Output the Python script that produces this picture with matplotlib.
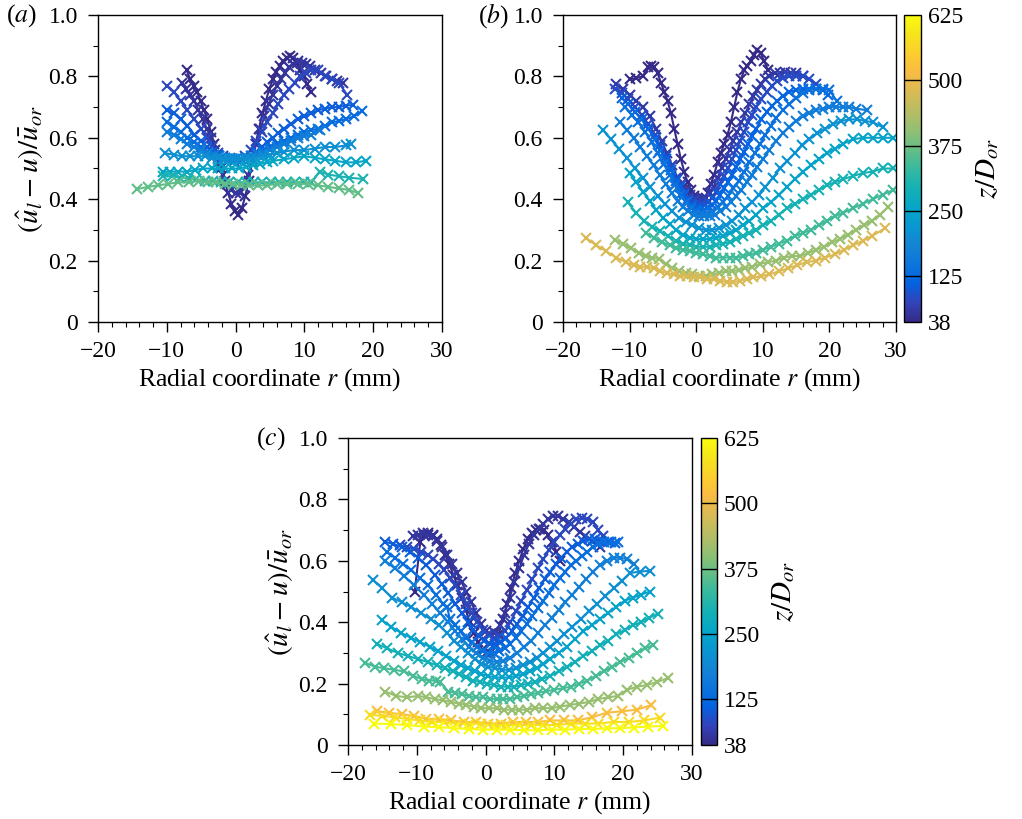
import matplotlib
matplotlib.use('Agg')
import matplotlib.pyplot as plt
from matplotlib.colors import LinearSegmentedColormap, Normalize
from matplotlib.cm import ScalarMappable
from matplotlib.ticker import MultipleLocator, FuncFormatter

plt.rcParams['font.family'] = 'serif'
plt.rcParams['font.serif'] = ['Liberation Serif', 'DejaVu Serif']
plt.rcParams['mathtext.fontset'] = 'stix'

# ---------------- data ----------------
Z_MIN, Z_MAX = 38, 625
CBAR_TICKS = [38, 125, 250, 375, 500, 625]

# panel (a)
z_a = [38, 55, 80, 105, 130, 165, 205, 255, 300, 365]
r_a = [
    [-7.1, -6.6, -6.1, -5.6, -5.1, -4.6, -4.1, -3.6, -3.1, -2.6, -2.1, -1.6, -1.1, -0.6, -0.1, 0.4, 0.9, 1.4, 1.9,
     2.4, 2.9, 3.4, 3.9, 4.4, 4.9, 5.4, 5.9, 6.4, 6.9, 7.4, 7.9, 8.4, 8.9, 9.4, 9.9, 10.4, 10.9],
    [-7.8, -7.2, -6.6, -6.0, -5.4, -4.8, -4.2, -3.6, -3.0, -2.4, -1.8, -1.2, -0.6, 0.0, 0.6, 1.2, 1.8, 2.4, 3.0,
     3.6, 4.2, 4.8, 5.4, 6.0, 6.6, 7.2, 7.8, 8.4, 9.0, 9.6, 10.2, 10.8, 11.6, 12.4, 13.2, 14.0, 14.8, 15.6],
    [-10, -9, -8, -7, -6, -5, -4.2, -3.4, -2.6, -1.8, -1.0, -0.2, 0.6, 1.4, 2.2, 3.0, 3.8, 4.6, 5.4, 6.2, 7.0,
     7.8, 8.6, 9.4, 10.2, 11.0, 12.0, 13.0, 14.0, 15.0, 16.2],
    [-10, -9, -8, -7, -6, -5, -4.2, -3.4, -2.6, -1.8, -1.0, -0.2, 0.6, 1.4, 2.2, 3.0, 3.8, 4.6, 5.4, 6.2, 7.0,
     8.0, 9.0, 10.0, 11.0, 12.0, 13.0, 14.0, 15.0, 16.0, 17.1],
    [-10, -9, -8, -7, -6, -5, -4, -3.2, -2.4, -1.6, -0.8, 0, 0.8, 1.6, 2.4, 3.2, 4.0, 5.0, 6.0, 7.0, 8.0, 9.0,
     10.0, 11.0, 12.0, 13.0, 14.0, 15.0, 16.0, 17.2, 18.4],
    [-10, -9, -8, -7, -6, -5, -4, -3.2, -2.4, -1.6, -0.8, 0, 0.8, 1.6, 2.4, 3.2, 4.0, 5.0, 6.0, 7.0, 8.0, 9.0,
     10.0, 11.0, 12.2],
    [-10.3, -9, -7.8, -6.6, -5.4, -4.4, -3.4, -2.6, -1.8, -1.0, -0.2, 0.6, 1.4, 2.2, 3.0, 4.0, 5.0, 6.0, 7.0, 8.5,
     10, 11.5, 13, 14.5, 16, 16.8],
    [-10.5, -9.5, -8.3, -7.1, -5.9, -4.7, -3.5, -2.5, -1.5, -0.5, 0.5, 1.5, 2.5, 3.5, 4.5, 5.5, 7, 8.5, 10, 11.5,
     13, 14.5, 16, 17.5, 18.9],
    [-10.5, -9.3, -8.1, -6.9, -5.7, -4.5, -3.3, -2.1, -0.9, 0.3, 1.5, 2.7, 3.9, 5.1, 6.3, 7.5, 8.7, 9.9, 11.0,
     12.2, 13.5, 15, 16.5, 18.5],
    [-14.3, -12.8, -11.3, -9.8, -8.3, -6.8, -5.3, -4, -2.8, -1.6, -0.4, 0.8, 2, 3.2, 4.5, 6, 7.5, 9, 10.5, 12,
     13.5, 15, 16.5, 17.8],
]
u_a = [
    [0.82, 0.79, 0.77, 0.75, 0.72, 0.69, 0.66, 0.62, 0.58, 0.54, 0.50, 0.46, 0.42, 0.385, 0.36, 0.35, 0.37, 0.41,
     0.46, 0.52, 0.58, 0.63, 0.68, 0.72, 0.76, 0.79, 0.815, 0.835, 0.85, 0.86, 0.865, 0.86, 0.845, 0.82, 0.80,
     0.775, 0.75],
    [0.78, 0.76, 0.74, 0.72, 0.69, 0.66, 0.63, 0.60, 0.56, 0.52, 0.48, 0.45, 0.43, 0.42, 0.42, 0.44, 0.48, 0.53,
     0.58, 0.63, 0.67, 0.71, 0.74, 0.77, 0.79, 0.81, 0.83, 0.84, 0.85, 0.845, 0.84, 0.835, 0.82, 0.81, 0.80, 0.79,
     0.785, 0.78],
    [0.77, 0.75, 0.72, 0.69, 0.66, 0.63, 0.60, 0.57, 0.55, 0.54, 0.53, 0.525, 0.53, 0.54, 0.56, 0.59, 0.62, 0.65,
     0.68, 0.71, 0.74, 0.76, 0.78, 0.80, 0.81, 0.82, 0.82, 0.80, 0.79, 0.78, 0.74],
    [0.69, 0.68, 0.66, 0.64, 0.61, 0.59, 0.57, 0.555, 0.545, 0.535, 0.53, 0.525, 0.525, 0.53, 0.54, 0.555, 0.57,
     0.585, 0.60, 0.615, 0.63, 0.645, 0.66, 0.67, 0.68, 0.69, 0.695, 0.70, 0.70, 0.705, 0.707],
    [0.65, 0.635, 0.62, 0.60, 0.585, 0.57, 0.555, 0.545, 0.54, 0.535, 0.53, 0.53, 0.53, 0.535, 0.54, 0.55, 0.56,
     0.57, 0.58, 0.59, 0.60, 0.61, 0.62, 0.625, 0.63, 0.64, 0.65, 0.655, 0.66, 0.67, 0.687],
    [0.62, 0.61, 0.595, 0.58, 0.57, 0.56, 0.55, 0.545, 0.54, 0.535, 0.535, 0.53, 0.53, 0.535, 0.54, 0.545, 0.55,
     0.56, 0.57, 0.58, 0.59, 0.60, 0.605, 0.61, 0.625],
    [0.55, 0.545, 0.54, 0.54, 0.54, 0.54, 0.535, 0.535, 0.53, 0.53, 0.53, 0.53, 0.53, 0.53, 0.535, 0.54, 0.545,
     0.55, 0.555, 0.56, 0.56, 0.565, 0.57, 0.57, 0.575, 0.58],
    [0.49, 0.49, 0.49, 0.49, 0.495, 0.50, 0.50, 0.50, 0.50, 0.50, 0.50, 0.505, 0.51, 0.515, 0.52, 0.525, 0.53,
     0.535, 0.54, 0.535, 0.53, 0.525, 0.52, 0.52, 0.525],
    [0.475, 0.475, 0.47, 0.47, 0.465, 0.46, 0.46, 0.455, 0.455, 0.455, 0.455, 0.455, 0.455, 0.455, 0.455, 0.455,
     0.455, 0.455, 0.455, 0.49, 0.48, 0.475, 0.47, 0.466],
    [0.433, 0.44, 0.445, 0.45, 0.455, 0.455, 0.46, 0.455, 0.455, 0.45, 0.45, 0.445, 0.445, 0.445, 0.445, 0.45,
     0.45, 0.45, 0.45, 0.445, 0.44, 0.435, 0.43, 0.42],
]

# panel (b)
z_b = [38, 60, 85, 115, 140, 165, 210, 250, 295, 340, 410, 480]
r_b = [
    [-10, -9, -8, -7.3, -6.8, -6.3, -5.8, -5.3, -4.8, -4.3, -3.8, -3.3, -2.8, -2.3, -1.8, -1.3, -0.8, -0.3, 0.2,
     0.7, 1.2, 1.7, 2.2, 2.7, 3.2, 3.7, 4.2, 4.7, 5.2, 5.7, 6.2, 6.7, 7.2, 7.7, 8.2, 8.7, 9.2, 9.7, 10.2, 10.8],
    [-12, -11, -10, -9, -8, -7, -6, -5.2, -4.4, -3.6, -2.8, -2.2, -1.6, -1.0, -0.4, 0.2, 0.8, 1.4, 2.0, 2.6, 3.2,
     3.8, 4.4, 5.0, 5.6, 6.2, 6.8, 7.4, 8.0, 8.6, 9.2, 9.8, 10.4, 11.0, 11.8, 12.6, 13.4, 14.2, 15.0, 16.0],
    [-12.2, -11.2, -10.2, -9.2, -8.2, -7.2, -6.2, -5.4, -4.6, -3.8, -3.0, -2.4, -1.8, -1.2, -0.6, 0.0, 0.6, 1.2,
     1.8, 2.4, 3.0, 3.6, 4.2, 4.8, 5.4, 6.0, 6.6, 7.2, 7.8, 8.4, 9.0, 9.8, 10.6, 11.4, 12.2, 13.0, 14.0, 15.0,
     16.0, 17.0, 18.0],
    [-11.2, -10.2, -9.2, -8.2, -7.2, -6.2, -5.4, -4.6, -3.8, -3.0, -2.4, -1.8, -1.2, -0.6, 0.0, 0.6, 1.2, 1.8,
     2.4, 3.0, 3.6, 4.2, 4.8, 5.4, 6.0, 6.6, 7.2, 7.8, 8.4, 9.0, 9.8, 10.6, 11.4, 12.2, 13.0, 14.0, 15.0, 16.0,
     17.0, 18.0, 19.0, 19.8],
    [-10.7, -9.7, -8.7, -7.7, -6.7, -5.8, -4.9, -4.0, -3.2, -2.4, -1.6, -0.8, 0.0, 0.8, 1.6, 2.4, 3.2, 4.0, 4.8,
     5.6, 6.4, 7.2, 8.0, 8.8, 9.6, 10.4, 11.2, 12.0, 13.0, 14.0, 15.0, 16.0, 17.0, 18.0, 19.0, 20.0, 21.1],
    [-11.4, -10.4, -9.4, -8.4, -7.4, -6.4, -5.5, -4.6, -3.7, -2.8, -2.0, -1.2, -0.4, 0.4, 1.2, 2.0, 2.8, 3.6,
     4.4, 5.2, 6.0, 6.8, 7.6, 8.4, 9.2, 10.0, 11.0, 12.0, 13.0, 14.0, 15.0, 16.0, 17.0, 18.0, 19.0, 20.0, 21.0,
     22.0, 23.0, 24.0, 25.6],
    [-14, -12.8, -11.6, -10.4, -9.2, -8, -6.9, -5.8, -4.7, -3.6, -2.6, -1.6, -0.6, 0.4, 1.4, 2.4, 3.4, 4.4, 5.4,
     6.4, 7.4, 8.4, 9.4, 10.4, 11.5, 12.6, 13.7, 14.8, 15.9, 17, 18.2, 19.4, 20.6, 21.8, 23, 24.2, 25.4, 26.6, 28],
    [-10, -9, -8, -7, -6, -5, -4, -3, -2, -1, 0, 1, 2, 3, 4, 5, 6, 7, 8, 9, 10, 11.2, 12.4, 13.6, 14.8, 16, 17.2,
     18.4, 19.6, 20.8, 22, 23.5, 25, 26.5, 28, 29.6],
    [-10.3, -9, -7.8, -6.6, -5.4, -4.2, -3, -2, -1, 0, 1, 2, 3, 4, 5, 6, 7, 8, 9, 10, 11.2, 12.4, 13.6, 14.8, 16,
     17.2, 18.4, 19.6, 20.8, 22, 23.5, 25, 26.5, 28, 29.6],
    [-7.5, -6.3, -5.1, -4, -3, -2, -1, 0, 1, 2, 3, 4, 5, 6, 7, 8, 9, 10, 11.2, 12.4, 13.6, 14.8, 16, 17.2, 18.4,
     19.6, 20.8, 22, 23.5, 25, 26.5, 28, 29.6],
    [-12.2, -11, -9.8, -8.6, -7.6, -6.6, -5.6, -4.6, -3.6, -2.6, -1.6, -0.6, 0.4, 1.4, 2.4, 3.4, 4.4, 5.4, 6.4,
     7.4, 8.4, 9.6, 10.8, 12, 13.2, 14.4, 15.6, 16.8, 18, 19.2, 20.4, 21.6, 22.8, 24, 25.2, 26.4, 27.6, 28.8],
    [-16.5, -15, -13.5, -12, -10.6, -9.4, -8.4, -7.4, -6.4, -5.4, -4.4, -3.4, -2.4, -1.4, -0.4, 0.6, 1.6, 2.6,
     3.6, 4.6, 5.6, 6.6, 7.6, 8.6, 9.8, 11, 12.4, 13.8, 15.2, 16.6, 18, 19.4, 20.8, 22.2, 23.6, 25, 26.4, 28.3],
]
u_b = [
    [0.79, 0.795, 0.80, 0.83, 0.835, 0.83, 0.81, 0.78, 0.75, 0.72, 0.68, 0.63, 0.58, 0.53, 0.49, 0.455, 0.43,
     0.41, 0.40, 0.395, 0.40, 0.42, 0.45, 0.48, 0.52, 0.55, 0.58, 0.61, 0.65, 0.70, 0.75, 0.79, 0.82, 0.835, 0.85,
     0.87, 0.885, 0.875, 0.85, 0.82],
    [0.775, 0.76, 0.74, 0.72, 0.70, 0.67, 0.63, 0.59, 0.55, 0.51, 0.47, 0.45, 0.43, 0.415, 0.405, 0.40, 0.40,
     0.405, 0.42, 0.44, 0.47, 0.50, 0.53, 0.56, 0.59, 0.62, 0.65, 0.68, 0.71, 0.735, 0.755, 0.775, 0.79, 0.80,
     0.81, 0.81, 0.815, 0.81, 0.81, 0.80],
    [0.76, 0.745, 0.725, 0.70, 0.675, 0.645, 0.61, 0.575, 0.54, 0.505, 0.47, 0.445, 0.42, 0.40, 0.39, 0.385, 0.38,
     0.38, 0.39, 0.405, 0.425, 0.45, 0.475, 0.50, 0.53, 0.56, 0.59, 0.62, 0.65, 0.675, 0.70, 0.725, 0.75, 0.77,
     0.785, 0.795, 0.80, 0.80, 0.80, 0.79, 0.775],
    [0.73, 0.71, 0.685, 0.66, 0.63, 0.595, 0.56, 0.53, 0.495, 0.46, 0.44, 0.415, 0.395, 0.38, 0.37, 0.365, 0.365,
     0.37, 0.38, 0.395, 0.415, 0.435, 0.455, 0.48, 0.505, 0.53, 0.555, 0.58, 0.605, 0.63, 0.66, 0.685, 0.705,
     0.72, 0.735, 0.75, 0.755, 0.76, 0.76, 0.76, 0.755, 0.74],
    [0.70, 0.675, 0.65, 0.62, 0.585, 0.55, 0.515, 0.48, 0.445, 0.415, 0.39, 0.37, 0.36, 0.355, 0.355, 0.36,
     0.375, 0.39, 0.41, 0.435, 0.46, 0.49, 0.52, 0.55, 0.58, 0.61, 0.64, 0.665, 0.69, 0.71, 0.73, 0.745, 0.755,
     0.76, 0.76, 0.755, 0.72],
    [0.65, 0.625, 0.60, 0.57, 0.54, 0.51, 0.48, 0.45, 0.42, 0.395, 0.375, 0.36, 0.35, 0.345, 0.345, 0.345, 0.35,
     0.36, 0.375, 0.39, 0.41, 0.43, 0.455, 0.48, 0.505, 0.53, 0.56, 0.59, 0.615, 0.635, 0.655, 0.67, 0.68, 0.69,
     0.695, 0.70, 0.70, 0.70, 0.70, 0.695, 0.69],
    [0.625, 0.595, 0.565, 0.535, 0.50, 0.47, 0.44, 0.41, 0.385, 0.36, 0.34, 0.325, 0.315, 0.305, 0.30, 0.30,
     0.305, 0.315, 0.33, 0.35, 0.37, 0.39, 0.415, 0.44, 0.47, 0.50, 0.525, 0.55, 0.575, 0.595, 0.615, 0.63, 0.645,
     0.655, 0.66, 0.66, 0.655, 0.65, 0.635],
    [0.485, 0.455, 0.425, 0.395, 0.365, 0.34, 0.32, 0.30, 0.285, 0.275, 0.27, 0.27, 0.27, 0.275, 0.28, 0.29, 0.30,
     0.315, 0.33, 0.35, 0.37, 0.39, 0.415, 0.44, 0.465, 0.49, 0.51, 0.53, 0.55, 0.565, 0.58, 0.595, 0.60, 0.60,
     0.60, 0.60],
    [0.39, 0.355, 0.33, 0.31, 0.295, 0.28, 0.265, 0.255, 0.25, 0.245, 0.245, 0.245, 0.25, 0.255, 0.26, 0.27, 0.28,
     0.29, 0.30, 0.315, 0.33, 0.35, 0.37, 0.385, 0.40, 0.415, 0.43, 0.445, 0.455, 0.465, 0.475, 0.485, 0.49, 0.50,
     0.50],
    [0.29, 0.275, 0.26, 0.25, 0.24, 0.235, 0.23, 0.225, 0.22, 0.215, 0.21, 0.21, 0.21, 0.21, 0.215, 0.22, 0.225,
     0.235, 0.245, 0.255, 0.265, 0.28, 0.29, 0.30, 0.315, 0.33, 0.345, 0.355, 0.37, 0.385, 0.40, 0.415, 0.43],
    [0.267, 0.255, 0.24, 0.225, 0.215, 0.21, 0.205, 0.19, 0.175, 0.165, 0.16, 0.155, 0.15, 0.15, 0.155, 0.16,
     0.165, 0.165, 0.17, 0.175, 0.18, 0.19, 0.195, 0.20, 0.21, 0.215, 0.215, 0.225, 0.235, 0.245, 0.26, 0.27,
     0.285, 0.30, 0.315, 0.33, 0.35, 0.374],
    [0.273, 0.25, 0.23, 0.21, 0.195, 0.185, 0.18, 0.18, 0.175, 0.165, 0.16, 0.155, 0.15, 0.15, 0.145, 0.145, 0.14,
     0.14, 0.135, 0.13, 0.13, 0.135, 0.14, 0.145, 0.15, 0.155, 0.165, 0.175, 0.185, 0.195, 0.20, 0.21, 0.22,
     0.235, 0.25, 0.265, 0.28, 0.305],
]

# panel (c)
z_c = [38, 55, 80, 105, 135, 170, 205, 245, 290, 345, 410, 520, 575, 625]
r_c = [
    [-10.3, -9.5, -8.9, -8.3, -7.7, -7.1, -6.5, -5.9, -5.3, -4.7, -4.1, -3.5, -2.9, -2.3, -1.7, -1.1, -0.5, 0.1,
     0.7, 1.3, 1.9, 2.5, 3.1, 3.7, 4.3, 4.9, 5.5, 6.1, 6.7, 7.3, 7.9, 8.5, 9.1, 9.7, 10.3, 10.8],
    [-10.5, -9.8, -9.1, -8.4, -7.7, -7, -6.3, -5.6, -4.9, -4.2, -3.5, -2.8, -2.1, -1.4, -0.7, 0, 0.7, 1.4, 2.1,
     2.8, 3.5, 4.2, 4.9, 5.6, 6.3, 7, 7.7, 8.4, 9.1, 9.8, 10.5, 11.3, 12.1, 12.9, 13.7, 14.5, 15.5, 16.6],
    [-12.4, -11.4, -10.4, -9.4, -8.4, -7.6, -6.8, -6, -5.2, -4.4, -3.6, -2.8, -2, -1.2, -0.4, 0.4, 1.2, 2, 2.8,
     3.6, 4.4, 5.2, 6, 6.8, 7.6, 8.4, 9.2, 10, 10.8, 11.6, 12.4, 13.2, 14, 14.8, 15.6, 16.4, 17.1],
    [-14.6, -13.4, -12.2, -11, -9.8, -8.6, -7.4, -6.4, -5.4, -4.4, -3.5, -2.6, -1.8, -1, -0.2, 0.6, 1.4, 2.2, 3,
     3.8, 4.6, 5.4, 6.2, 7, 7.8, 8.6, 9.4, 10.2, 11, 11.8, 12.6, 13.4, 14.2, 15, 15.9, 16.8, 17.8, 18.8],
    [-14.4, -13.2, -12, -10.8, -9.6, -8.4, -7.2, -6.2, -5.6, -5.2, -4.4, -3.6, -2.8, -2, -1.2, -0.4, 0.4, 1.2, 2,
     2.8, 3.6, 4.4, 5.2, 6, 6.8, 7.6, 8.4, 9.2, 10, 10.8, 11.6, 12.4, 13.2, 14, 14.8, 15.6, 16.4, 17.2, 18.2, 19.3],
    [-14.6, -13.2, -11.8, -10.4, -9, -7.8, -6.6, -5.4, -4.4, -3.4, -2.4, -1.4, -0.4, 0.6, 1.6, 2.6, 3.6, 4.6, 5.6,
     6.6, 7.6, 8.6, 9.6, 10.6, 11.6, 12.6, 13.6, 14.6, 15.6, 16.6, 17.6, 18.6, 19.6, 20.6, 21.5],
    [-16.3, -15, -13.6, -12.2, -10.8, -9.4, -8, -6.8, -5.6, -4.6, -3.6, -2.6, -1.6, -0.6, 0.4, 1.4, 2.4, 3.4, 4.4,
     5.4, 6.4, 7.4, 8.4, 9.4, 10.4, 11.4, 12.6, 13.8, 15, 16.2, 17.4, 18.6, 19.8, 21, 22.4, 23.9],
    [-15.1, -13.7, -12.3, -10.9, -9.5, -8.1, -6.9, -5.7, -4.6, -3.6, -2.6, -1.6, -0.6, 0.4, 1.4, 2.4, 3.4, 4.4,
     5.4, 6.4, 7.4, 8.4, 9.4, 10.6, 11.8, 13, 14.2, 15.4, 16.6, 17.8, 19, 20.2, 21.4, 22.6, 23.9],
    [-15.8, -14.3, -12.8, -11.3, -9.8, -8.4, -7.1, -5.9, -4.8, -3.8, -2.8, -1.8, -0.8, 0.2, 1.2, 2.2, 3.2, 4.2,
     5.2, 6.2, 7.2, 8.2, 9.4, 10.6, 11.8, 13, 14.2, 15.4, 16.6, 17.8, 19, 20.2, 21.4, 22.6, 23.8, 25],
    [-17.5, -16.1, -14.7, -13.3, -11.9, -10.5, -9.3, -8.2, -7.2, -6.6, -5.4, -4.4, -3.4, -2.4, -1.4, -0.4, 0.6,
     1.6, 2.6, 3.6, 4.6, 5.6, 6.6, 7.6, 8.8, 10, 11.2, 12.4, 13.6, 14.8, 16, 17.2, 18.4, 19.6, 20.8, 22, 23.2, 24.4],
    [-14.6, -13, -11.4, -9.8, -8.6, -7.4, -6.2, -5, -3.9, -2.8, -1.7, -0.6, 0.5, 1.6, 2.7, 3.8, 4.9, 6, 7.2, 8.4,
     9.6, 10.8, 12.2, 13.6, 15, 16.4, 17.8, 19.2, 20.6, 22, 23.4, 24.9, 26.5],
    [-15.8, -14, -12.2, -10.4, -8.6, -6.8, -5, -3.2, -1.4, 0.4, 2.2, 4, 5.8, 7.6, 9.4, 11.4, 13.4, 15.4, 17.6,
     19.8, 22, 24.1],
    [-16.8, -15, -13.2, -11.4, -9.6, -7.8, -6, -4.2, -2.4, -0.6, 1.2, 3, 4.8, 6.6, 8.4, 10.4, 12.4, 14.4, 16.4,
     18.6, 20.8, 23, 25.3],
    [-16.2, -13.8, -11.4, -9, -6.8, -4.6, -2.4, -0.4, 1.6, 3.6, 5.6, 7.6, 9.6, 11.6, 13.6, 15.6, 17.6, 19.6, 21.6,
     23.6, 25.8],
]
u_c = [
    [0.50, 0.66, 0.685, 0.69, 0.685, 0.67, 0.65, 0.62, 0.59, 0.555, 0.52, 0.48, 0.44, 0.40, 0.365, 0.335, 0.31,
     0.30, 0.30, 0.32, 0.36, 0.41, 0.46, 0.51, 0.56, 0.60, 0.64, 0.67, 0.69, 0.70, 0.705, 0.70, 0.685, 0.66, 0.63,
     0.60],
    [0.68, 0.685, 0.69, 0.685, 0.68, 0.665, 0.645, 0.62, 0.59, 0.56, 0.53, 0.50, 0.465, 0.43, 0.395, 0.37, 0.36,
     0.365, 0.39, 0.43, 0.48, 0.53, 0.575, 0.62, 0.655, 0.685, 0.705, 0.72, 0.735, 0.745, 0.745, 0.735, 0.725,
     0.71, 0.695, 0.68, 0.665, 0.646],
    [0.65, 0.645, 0.64, 0.63, 0.62, 0.605, 0.59, 0.57, 0.545, 0.52, 0.49, 0.46, 0.43, 0.40, 0.375, 0.36, 0.35,
     0.355, 0.37, 0.40, 0.435, 0.47, 0.505, 0.54, 0.575, 0.605, 0.635, 0.66, 0.685, 0.705, 0.72, 0.735, 0.74,
     0.735, 0.727, 0.70, 0.68],
    [0.662, 0.655, 0.645, 0.63, 0.61, 0.585, 0.555, 0.525, 0.495, 0.46, 0.43, 0.40, 0.375, 0.355, 0.34, 0.33,
     0.33, 0.335, 0.35, 0.37, 0.395, 0.42, 0.45, 0.48, 0.51, 0.54, 0.565, 0.59, 0.61, 0.63, 0.645, 0.655, 0.665,
     0.67, 0.67, 0.665, 0.66, 0.657],
    [0.63, 0.61, 0.59, 0.57, 0.545, 0.52, 0.49, 0.46, 0.45, 0.41, 0.39, 0.37, 0.35, 0.335, 0.32, 0.305, 0.30,
     0.30, 0.305, 0.315, 0.33, 0.35, 0.37, 0.395, 0.42, 0.445, 0.47, 0.495, 0.52, 0.545, 0.565, 0.585, 0.60,
     0.615, 0.63, 0.645, 0.655, 0.66, 0.66, 0.66],
    [0.60, 0.575, 0.55, 0.52, 0.49, 0.46, 0.43, 0.40, 0.37, 0.345, 0.32, 0.30, 0.285, 0.275, 0.27, 0.275, 0.285,
     0.30, 0.32, 0.34, 0.365, 0.39, 0.415, 0.44, 0.465, 0.49, 0.515, 0.54, 0.565, 0.585, 0.60, 0.61, 0.61, 0.605,
     0.59],
    [0.537, 0.51, 0.48, 0.465, 0.45, 0.43, 0.41, 0.39, 0.365, 0.34, 0.32, 0.30, 0.28, 0.265, 0.255, 0.25, 0.245,
     0.245, 0.25, 0.26, 0.27, 0.285, 0.30, 0.32, 0.34, 0.36, 0.385, 0.41, 0.435, 0.46, 0.485, 0.51, 0.535, 0.56,
     0.565, 0.567],
    [0.407, 0.385, 0.365, 0.35, 0.335, 0.32, 0.305, 0.29, 0.275, 0.26, 0.25, 0.24, 0.23, 0.225, 0.22, 0.22, 0.22,
     0.225, 0.23, 0.24, 0.25, 0.265, 0.28, 0.30, 0.32, 0.345, 0.37, 0.39, 0.41, 0.43, 0.45, 0.47, 0.48, 0.49,
     0.50],
    [0.329, 0.315, 0.30, 0.29, 0.28, 0.27, 0.26, 0.25, 0.24, 0.23, 0.22, 0.21, 0.205, 0.20, 0.195, 0.19, 0.19,
     0.19, 0.195, 0.20, 0.205, 0.215, 0.225, 0.24, 0.255, 0.27, 0.29, 0.305, 0.325, 0.34, 0.36, 0.375, 0.39,
     0.40, 0.415, 0.427],
    [0.268, 0.255, 0.25, 0.245, 0.24, 0.225, 0.215, 0.21, 0.21, 0.205, 0.174, 0.17, 0.165, 0.16, 0.155, 0.155,
     0.15, 0.15, 0.15, 0.15, 0.155, 0.16, 0.165, 0.17, 0.175, 0.18, 0.185, 0.19, 0.20, 0.21, 0.225, 0.24, 0.255,
     0.27, 0.285, 0.30, 0.315, 0.326],
    [0.174, 0.16, 0.155, 0.16, 0.155, 0.15, 0.145, 0.14, 0.135, 0.13, 0.125, 0.12, 0.12, 0.12, 0.115, 0.115,
     0.115, 0.115, 0.12, 0.12, 0.12, 0.125, 0.13, 0.135, 0.14, 0.15, 0.155, 0.16, 0.18, 0.19, 0.195, 0.205, 0.218],
    [0.11, 0.105, 0.10, 0.095, 0.085, 0.085, 0.08, 0.075, 0.075, 0.07, 0.07, 0.075, 0.075, 0.075, 0.08, 0.08,
     0.08, 0.09, 0.105, 0.11, 0.115, 0.13],
    [0.098, 0.095, 0.09, 0.085, 0.08, 0.075, 0.075, 0.07, 0.07, 0.07, 0.065, 0.065, 0.065, 0.065, 0.065, 0.065,
     0.07, 0.07, 0.07, 0.075, 0.075, 0.08, 0.089],
    [0.07, 0.068, 0.065, 0.06, 0.058, 0.055, 0.052, 0.05, 0.05, 0.05, 0.048, 0.048, 0.05, 0.05, 0.052, 0.052,
     0.054, 0.055, 0.057, 0.06, 0.062],
]

# parula-like colour map (sampled anchors)
PARULA = [
    (0.2081, 0.1663, 0.5292), (0.1959, 0.2645, 0.7279), (0.0117, 0.3875, 0.8820), (0.0498, 0.4586, 0.8641),
    (0.0793, 0.5200, 0.8312), (0.0343, 0.5966, 0.8199), (0.0228, 0.6535, 0.7768), (0.0843, 0.6928, 0.7062),
    (0.2178, 0.7250, 0.6193), (0.3953, 0.7459, 0.5244), (0.5709, 0.7485, 0.4494), (0.7184, 0.7411, 0.3905),
    (0.8507, 0.7299, 0.3360), (0.9739, 0.7314, 0.2666), (0.9880, 0.8066, 0.1794), (0.9589, 0.8949, 0.1132),
    (0.9763, 0.9831, 0.0538),
]
cmap = LinearSegmentedColormap.from_list('parula', PARULA)
norm = Normalize(vmin=Z_MIN, vmax=Z_MAX)

YLABEL = r'$(\hat{u}_l-u)/\bar{u}_{or}$'
XLABEL = r'Radial coordinate $r$ (mm)'
FS_TICK = 17
FS_LABEL = 18.5
FS_MATH = 21


def draw_panel(ax, z_list, r_list, u_list, ylabel=True):
    for z, r, u in zip(z_list, r_list, u_list):
        ax.plot(r, u, color=cmap(norm(z)), linewidth=1.5, marker='x', markersize=7, markeredgewidth=1.5)

    ax.set_xlim(-20, 30)
    ax.set_ylim(0, 1)
    ax.xaxis.set_major_locator(MultipleLocator(10))
    ax.xaxis.set_minor_locator(MultipleLocator(2))
    ax.yaxis.set_major_locator(MultipleLocator(0.2))
    ax.yaxis.set_minor_locator(MultipleLocator(0.1))
    ax.yaxis.set_major_formatter(FuncFormatter(lambda v, p: '0' if abs(v) < 1e-9 else '%.1f' % v))
    ax.tick_params(which='major', direction='out', length=7, width=1, labelsize=FS_TICK)
    ax.tick_params(axis='y', which='major', pad=7.5)
    ax.tick_params(axis='x', which='major', pad=6.5)
    ax.tick_params(which='minor', direction='out', length=3.5, width=0.8)
    for sp in ax.spines.values():
        sp.set_linewidth(1.0)
    ax.set_xlabel(XLABEL, fontsize=FS_LABEL, labelpad=3)
    if ylabel:
        ax.set_ylabel(YLABEL, fontsize=FS_MATH, labelpad=2)


def draw_cbar(fig, rect):
    cax = fig.add_axes(rect)
    cb = fig.colorbar(ScalarMappable(norm=norm, cmap=cmap), cax=cax, ticks=CBAR_TICKS)
    cb.ax.tick_params(length=0, labelsize=FS_TICK, pad=5)
    cb.outline.set_linewidth(1.0)
    for v in CBAR_TICKS[1:-1]:
        cax.axhline(v, color='k', linewidth=1.0)
    cb.set_label(r'$z/D_{or}$', fontsize=FS_MATH, labelpad=8)
    return cb


fig = plt.figure(figsize=(10.22, 8.19), dpi=100)
W, H = 1022.0, 819.0

ax_a = fig.add_axes([98 / W, 1 - 322 / H, 344 / W, 307 / H])
ax_b = fig.add_axes([563 / W, 1 - 322 / H, 333 / W, 307 / H])
ax_c = fig.add_axes([348 / W, 1 - 745 / H, 344 / W, 307 / H])

draw_panel(ax_a, z_a, r_a, u_a)
draw_panel(ax_b, z_b, r_b, u_b, ylabel=False)
draw_panel(ax_c, z_c, r_c, u_c)

draw_cbar(fig, [904 / W, 1 - 322 / H, 17 / W, 307 / H])
draw_cbar(fig, [701 / W, 1 - 745 / H, 16 / W, 307 / H])

fig.text(6 / W, 1 - 16 / H, r'($a$)', fontsize=FS_LABEL, ha='left', va='center')
fig.text(478 / W, 1 - 16 / H, r'($b$)', fontsize=FS_LABEL, ha='left', va='center')
fig.text(256 / W, 1 - 439 / H, r'($c$)', fontsize=FS_LABEL, ha='left', va='center')

fig.savefig('out.png', dpi=100)
